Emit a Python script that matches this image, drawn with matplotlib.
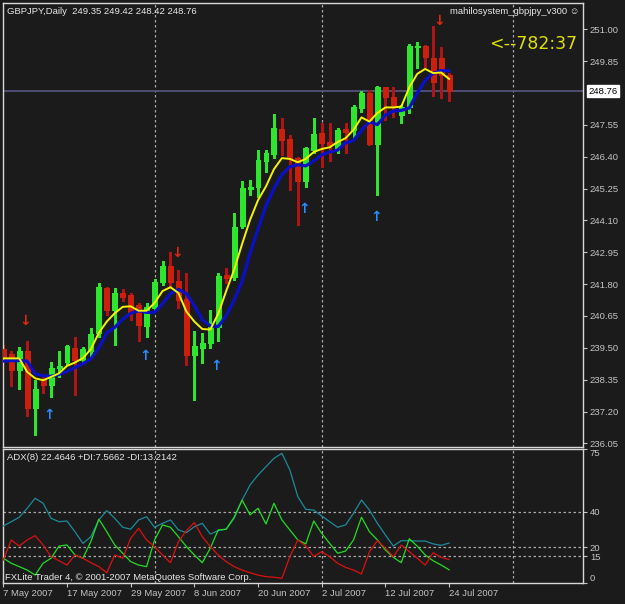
import numpy as np
import matplotlib
matplotlib.use("Agg")
import matplotlib.pyplot as plt
import matplotlib.transforms as mtransforms

plt.rcParams["font.family"] = ["Liberation Sans", "DejaVu Sans"]

# ---------- data: GBPJPY daily, 7 May .. 24 Jul 2007 ----------
open_ = [239.46, 239.28, 238.70, 239.39, 237.31, 238.34, 238.16, 238.79, 238.99, 239.50,
         239.06, 239.37, 240.03, 241.65, 240.87, 241.47, 241.41, 241.05, 240.29, 240.93,
         241.89, 242.46, 241.92, 241.26, 239.24, 239.51, 239.67, 240.24, 242.13, 242.05,
         243.90, 245.24, 245.32, 246.25, 246.50, 247.40, 247.03, 246.35, 245.53, 246.64,
         247.27, 246.94, 246.72, 247.40, 247.35, 248.15, 248.69, 246.86, 248.90, 248.56,
         247.91, 248.21, 250.35, 250.38, 249.98, 249.98, 249.35]
high = [239.61, 239.39, 239.54, 239.75, 238.34, 238.46, 238.99, 239.39, 239.61, 239.90,
        239.52, 240.22, 241.85, 241.71, 241.65, 241.61, 241.49, 241.11, 241.11, 241.98,
        242.65, 242.97, 242.31, 242.19, 240.12, 240.04, 240.87, 242.19, 242.37, 244.36,
        245.53, 245.56, 246.64, 246.64, 247.94, 247.79, 247.18, 246.40, 246.76, 247.79,
        247.61, 247.61, 247.43, 247.61, 248.27, 248.78, 248.80, 248.95, 248.92, 248.90,
        248.27, 250.47, 250.55, 250.44, 251.12, 250.35, 249.42]
low = [238.99, 238.13, 238.01, 237.04, 236.35, 237.87, 237.72, 238.46, 238.88, 237.80,
       238.99, 239.18, 239.90, 240.68, 239.61, 241.20, 240.50, 239.73, 239.88, 240.84,
       241.77, 241.66, 240.93, 238.88, 237.62, 238.95, 239.50, 239.73, 241.83, 241.94,
       243.81, 245.02, 244.96, 245.86, 246.35, 246.47, 245.20, 243.94, 245.32, 246.53,
       246.02, 246.23, 246.55, 246.55, 247.07, 248.03, 246.82, 245.02, 247.73, 247.83,
       247.61, 247.99, 249.59, 249.65, 248.59, 248.51, 248.42]
close = [239.17, 238.70, 239.39, 237.31, 238.02, 238.16, 238.77, 238.85, 239.55, 239.06,
         239.46, 240.00, 241.69, 240.87, 241.49, 241.35, 240.75, 240.32, 240.97, 241.89,
         242.46, 241.89, 241.23, 239.24, 239.57, 239.67, 240.24, 242.09, 242.01, 243.86,
         245.28, 245.32, 246.29, 246.55, 247.43, 247.00, 246.35, 245.53, 246.71, 247.23,
         246.88, 246.82, 247.37, 247.31, 248.18, 248.71, 246.86, 248.92, 248.54, 248.18,
         248.18, 250.40, 250.40, 250.00, 249.08, 249.35, 248.76]

# yellow (fast) and blue (slow) averages
ma_fast = [239.12, 239.12, 239.12, 238.63, 238.40, 238.33, 238.45, 238.58, 238.85, 238.97,
           239.13, 239.45, 240.04, 240.45, 240.75, 240.98, 241.00, 240.84, 240.84, 241.12,
           241.55, 241.69, 241.48, 240.81, 240.45, 240.18, 240.16, 240.73, 241.55, 242.32,
           243.25, 244.12, 244.83, 245.33, 245.95, 246.35, 246.32, 246.20, 246.32, 246.57,
           246.68, 246.74, 246.93, 247.07, 247.37, 247.82, 247.67, 247.98, 248.18, 248.18,
           248.21, 248.90, 249.39, 249.57, 249.42, 249.44, 249.21]
ma_slow = [239.02, 239.04, 239.04, 239.02, 238.56, 238.49, 238.47, 238.54, 238.65, 238.79,
           238.93, 239.10, 239.50, 240.04, 240.24, 240.54, 240.75, 240.84, 240.78, 240.78,
           241.09, 241.46, 241.61, 241.46, 241.02, 240.52, 240.29, 240.27, 240.66, 241.23,
           241.91, 242.92, 243.79, 244.64, 245.25, 245.76, 246.04, 246.11, 246.07, 246.25,
           246.47, 246.57, 246.64, 246.90, 246.99, 247.36, 247.66, 247.56, 247.90, 248.05,
           248.07, 248.16, 248.70, 249.15, 249.41, 249.51, 249.50]

# ADX(8) panel
adx = [32.0, 34.4, 36.9, 41.9, 47.5, 44.7, 36.3, 34.4, 34.8, 28.8,
       22.3, 26.0, 35.4, 40.6, 36.3, 31.3, 30.2, 35.4, 37.2, 31.3,
       33.5, 35.4, 29.8, 28.3, 31.6, 33.5, 27.5, 29.4, 30.2, 36.3,
       46.5, 54.9, 60.5, 65.1, 69.8, 72.6, 63.3, 48.4, 41.3, 40.9,
       37.6, 34.4, 31.3, 32.6, 39.1, 46.5, 40.9, 33.5, 27.0, 20.8,
       23.8, 23.8, 23.6, 23.6, 22.0, 21.2, 22.4646]
plus_di = [14.0, 11.2, 9.3, 7.4, 4.6, 11.2, 14.0, 20.8, 21.4, 15.8,
           14.0, 23.3, 35.8, 28.8, 21.4, 16.8, 12.1, 10.2, 9.3, 24.2,
           32.6, 31.3, 26.0, 20.5, 15.8, 11.5, 19.6, 29.8, 30.2, 36.9,
           46.5, 38.2, 41.9, 33.1, 44.7, 35.4, 29.8, 24.2, 22.0, 34.8,
           27.9, 22.3, 16.8, 18.0, 24.2, 36.9, 28.8, 24.2, 18.6, 14.5,
           11.5, 24.9, 20.8, 15.8, 12.6, 10.2, 7.5662]
minus_di = [13.0, 24.2, 20.8, 24.2, 26.6, 21.4, 14.9, 12.6, 10.2, 15.8,
            14.0, 11.5, 9.3, 5.9, 15.8, 14.0, 25.1, 30.7, 24.2, 20.5,
            15.8, 11.5, 23.3, 29.4, 33.9, 26.0, 20.5, 15.8, 12.1, 9.3,
            7.4, 5.9, 4.6, 3.7, 3.4, 2.8, 14.9, 24.2, 20.8, 15.0,
            17.7, 14.9, 11.2, 8.9, 7.4, 5.2, 17.7, 23.8, 19.6, 14.9,
            21.4, 17.7, 14.0, 10.2, 17.1, 14.5, 13.2142]

# signal arrows (bar index, price level)
sell_bars = [3, 22, 55]
sell_lvl = [240.47, 242.91, 251.30]
buy_bars = [6, 18, 27, 38, 47]
buy_lvl = [237.06, 239.20, 238.85, 244.53, 244.21]

tick_bars = [0, 8, 16, 24, 32, 40, 48, 56]
tick_labels = ["7 May 2007", "17 May 2007", "29 May 2007", "8 Jun 2007",
               "20 Jun 2007", "2 Jul 2007", "12 Jul 2007", "24 Jul 2007"]
month_sep = [19, 40, 64]
price_ticks = [236.05, 237.20, 238.35, 239.50, 240.65, 241.80, 242.95,
               244.10, 245.25, 246.40, 247.55, 249.85, 251.00]
adx_levels = [40, 20, 15]
adx_ticks = [0, 15, 20, 40, 75]

symbol = "GBPJPY,Daily"
ea_name = "mahilosystem_gbpjpy_v300"
timer_text = "<--782:37"
credit = "FXLite Trader 4, \u00a9 2001-2007 MetaQuotes Software Corp."

# ---------- style ----------
BG = "#1b1b1b"
FG = "#c4c4c4"
BULL = "#2ee62e"
BEAR = "#cc200c"
BEAR_WICK = "#b01414"
GRID = "#a8a8a8"
W, H = 625, 604

fig = plt.figure(figsize=(W / 100, H / 100), dpi=100, facecolor=BG)


def px_axes(x0, y0, x1, y1):
    return fig.add_axes([x0 / W, 1 - y1 / H, (x1 - x0) / W, (y1 - y0) / H])


ax = px_axes(3, 3, 583, 447)
ax2 = px_axes(3, 449, 583, 583.3)

for a in (ax, ax2):
    a.set_facecolor(BG)
    for s in a.spines.values():
        s.set_color("#d8d8d8")
        s.set_linewidth(1.0)
    a.set_xlim(-0.04, 72.83)
    for b in month_sep:
        a.axvline(b, color=GRID, lw=0.9, ls=(0, (2, 2)), zorder=1)

# ---------- price panel ----------
o, h, l, c = map(np.asarray, (open_, high, low, close))
x = np.arange(len(c))
up = c >= o
wick_cols = [BULL if u else BEAR_WICK for u in up]
body_cols = [BULL if u else BEAR for u in up]

ax.axhline(c[-1], color="#52527a", lw=1.3, zorder=1)
ax.vlines(x, l, h, colors=wick_cols, lw=0.8, antialiased=False, zorder=2)
ax.bar(x, np.abs(c - o), bottom=np.minimum(o, c), width=0.62, color=body_cols,
       edgecolor=body_cols, linewidth=0.5, antialiased=False, zorder=3)

ax.plot(x, ma_slow, color="#0a10c4", lw=2.3, zorder=4)
ax.plot(x, ma_fast, color="#f5f500", lw=1.4, zorder=5)

for b, v in zip(sell_bars, sell_lvl):
    ax.text(b - 0.2, v, "\u2193", color="#e02810", ha="center", va="center",
            fontsize=10, fontweight="bold", family="DejaVu Sans", zorder=6)
for b, v in zip(buy_bars, buy_lvl):
    ax.text(b - 0.2, v, "\u2191", color="#2a8cff", ha="center", va="center",
            fontsize=10, fontweight="bold", family="DejaVu Sans", zorder=6)

ax.set_ylim(235.92, 251.95)
ax.set_xticks([])
ax.yaxis.tick_right()
ax.set_yticks(price_ticks)
ax.set_yticklabels([f"{p:.2f}" for p in price_ticks])
ax.tick_params(axis="y", direction="out", length=3, width=0.8, color=FG,
               labelcolor=FG, labelsize=6.8, pad=2)

trans = mtransforms.blended_transform_factory(ax.transAxes, ax.transData)
ax.text(1.009, c[-1], f"{c[-1]:.2f}", transform=trans, ha="left", va="center",
        fontsize=6.8, color="black", clip_on=False,
        bbox=dict(boxstyle="square,pad=0.15", fc="white", ec="white"))

# ---------- ADX panel ----------
ax2.plot(x, adx, color="#1e8a9a", lw=0.9, zorder=3)
ax2.plot(x, plus_di, color="#22dd22", lw=0.9, zorder=3)
ax2.plot(x, minus_di, color="#dd1010", lw=0.9, zorder=3)
for lv in adx_levels:
    ax2.axhline(lv, color=GRID, lw=0.9, ls=(0, (2, 2)), zorder=1)
ax2.set_ylim(0, 75)
ax2.yaxis.tick_right()
ax2.set_yticks(adx_ticks)
ax2.set_yticklabels([str(t) for t in adx_ticks])
ax2.tick_params(axis="y", direction="out", length=3, width=0.8, color=FG,
                labelcolor=FG, labelsize=6.8, pad=2)
ylabs = ax2.get_yticklabels()
ylabs[0].set_va("bottom")
ylabs[-1].set_va("top")

ax2.set_xticks(tick_bars)
ax2.set_xticklabels(tick_labels, ha="left")
ax2.tick_params(axis="x", direction="out", length=3, width=0.8, color=FG,
                labelcolor=FG, labelsize=6.8, pad=1)

# ---------- texts ----------
fig.text(7 / W, 1 - 11 / H,
         f"{symbol}  {open_[-1]:.2f} {high[-1]:.2f} {low[-1]:.2f} {close[-1]:.2f}",
         color="#e8e8e8", fontsize=6.8, ha="left", va="center")
fig.text(579 / W, 1 - 11 / H, ea_name + " \u263a", color="#e8e8e8", fontsize=6.8,
         ha="right", va="center")
fig.text(577 / W, 1 - 44 / H, timer_text, color="#e0e000", fontsize=12.5,
         family="DejaVu Sans", ha="right", va="center")
fig.text(7 / W, 1 - 458 / H,
         f"ADX(8) {adx[-1]:.4f} +DI:{plus_di[-1]:.4f} -DI:{minus_di[-1]:.4f}",
         color="#e8e8e8", fontsize=6.8, ha="left", va="center")
fig.text(5 / W, 1 - 578 / H, credit, color="#e8e8e8", fontsize=6.8,
         ha="left", va="center")

fig.savefig("out.png", dpi=100, facecolor=BG)
